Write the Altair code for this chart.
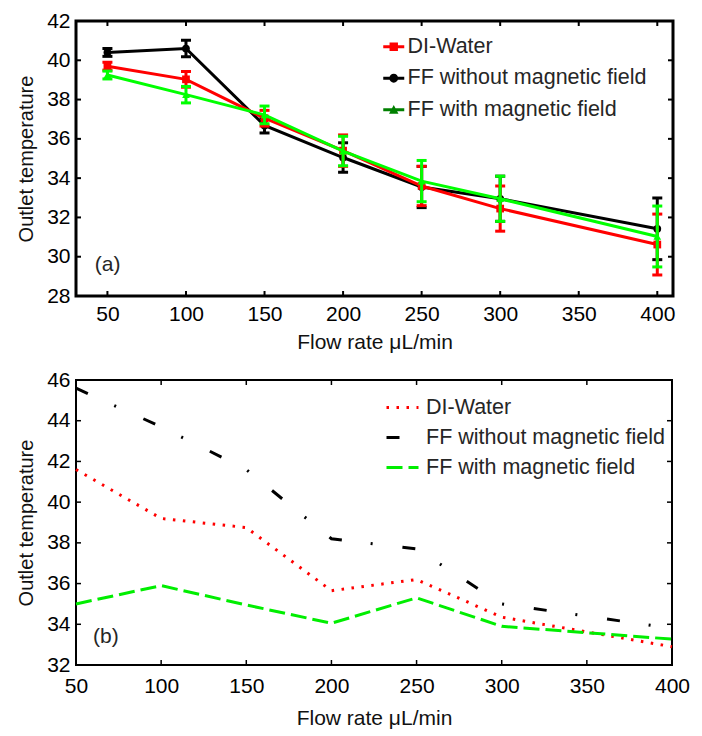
import altair as alt
import pandas as pd

FONT = "Liberation Sans"

# ---------------- data ----------------
series = ["DI-Water", "FF without magnetic field", "FF with magnetic field"]
flow = [50, 100, 150, 200, 250, 300, 400]

# panel (a): measured outlet temperature with error bars
di_a = [39.7, 39.03, 37.05, 35.4, 33.6, 32.45, 30.62]
di_a_err = [0.2, 0.4, 0.4, 0.8, 1.0, 1.15, 1.55]
ffwo_a = [40.4, 40.6, 36.68, 35.05, 33.55, 32.95, 31.42]
ffwo_a_err = [0.2, 0.42, 0.38, 0.75, 1.05, 1.15, 1.57]
ffw_a = [39.25, 38.25, 37.22, 35.38, 33.85, 32.95, 31.03]
ffw_a_err = [0.2, 0.42, 0.45, 0.75, 1.05, 1.15, 1.55]

# panel (b)
di_b = [41.6, 39.2, 38.75, 35.65, 36.2, 34.35, 32.9]
ffwo_b = [45.6, 43.7, 41.6, 38.2, 37.7, 35.0, 33.8]
ffw_b = [35.0, 35.9, 34.95, 34.05, 35.3, 33.9, 33.27]

x_ticks = [50, 100, 150, 200, 250, 300, 350, 400]
y_ticks_a = [28, 30, 32, 34, 36, 38, 40, 42]
y_ticks_b = [32, 34, 36, 38, 40, 42, 44, 46]
panel_labels = ["(a)", "(b)"]

# ---------------- styles ----------------
line_colors_a = {"DI-Water": "#ff0000", "FF without magnetic field": "#000000",
                 "FF with magnetic field": "#00ff00"}
marker_shapes = {"DI-Water": "square", "FF without magnetic field": "circle",
                 "FF with magnetic field": "triangle-up"}
legend_colors_a = ["#ff0000", "#000000", "#008000"]
bar = "M-1,-0.15H1V0.15H-1Z "
legend_paths_a = [
    bar + "M-0.4,-0.4H0.4V0.4H-0.4Z",
    bar + "M0.42,0A0.42,0.42 0 1,1 -0.42,0A0.42,0.42 0 1,1 0.42,0Z",
    bar + "M0,-0.45L0.45,0.38L-0.45,0.38Z",
]
colors_b = ["#ff0000", "#000000", "#00ee00"]
dashes_b = [[2.5, 7.5], [13, 29, 2, 30], [16, 6]]

W_A, H_A = 597, 275
W_B, H_B = 596, 285
XD_A, YD_A = [30, 410], [28, 42]
XD_B, YD_B = [50, 400], [32, 46]


def axis_x(pad, tpad):
    return alt.Axis(values=x_ticks, title="Flow rate μL/min", domain=False, ticks=False,
                    tickSize=0, grid=False, labelFontSize=21, labelFont=FONT,
                    labelColor="black", labelPadding=pad, titleFontSize=21, titleFont=FONT,
                    titleColor="#111", titleFontWeight="normal", titlePadding=tpad,
                    labelFlush=False)


def axis_y(values):
    return alt.Axis(values=values, title="Outlet temperature", domain=False, ticks=False,
                    tickSize=0, grid=False, labelFontSize=21, labelFont=FONT,
                    labelColor="black", labelPadding=6, titleFontSize=20, titleFont=FONT,
                    titleColor="#111", titleFontWeight="normal", titlePadding=10)


def tick_layers(ys, xd, yd, w, h, sw, ax, ay):
    tx = 5 * (xd[1] - xd[0]) / w
    ty = 5 * (yd[1] - yd[0]) / h
    xt = alt.Chart(pd.DataFrame({"v": x_ticks}))
    yt = alt.Chart(pd.DataFrame({"v": ys}))
    sx = alt.Scale(domain=xd, nice=False, zero=False)
    sy = alt.Scale(domain=yd, nice=False, zero=False)
    X = alt.X("v:Q", scale=sx, axis=ax)
    Y = alt.Y("v:Q", scale=sy, axis=ay)
    return [
        xt.mark_rule(color="black", strokeWidth=sw).encode(
            x=X, y=alt.YDatum(yd[0], scale=sy, axis=ay), y2=alt.Y2Datum(yd[0] + ty)),
        xt.mark_rule(color="black", strokeWidth=sw).encode(
            x=X, y=alt.YDatum(yd[1], scale=sy, axis=ay), y2=alt.Y2Datum(yd[1] - ty)),
        yt.mark_rule(color="black", strokeWidth=sw).encode(
            y=Y, x=alt.XDatum(xd[0], scale=sx, axis=ax), x2=alt.X2Datum(xd[0] + tx)),
        yt.mark_rule(color="black", strokeWidth=sw).encode(
            y=Y, x=alt.XDatum(xd[1], scale=sx, axis=ax), x2=alt.X2Datum(xd[1] - tx)),
    ]


# ---------------- panel (a) ----------------
sxa = alt.Scale(domain=XD_A, nice=False, zero=False)
sya = alt.Scale(domain=YD_A, nice=False, zero=False)
axa = axis_x(7, 7)
aya = axis_y(y_ticks_a)

layers_a = []
for name, vals, errs in [("FF without magnetic field", ffwo_a, ffwo_a_err),
                         ("DI-Water", di_a, di_a_err),
                         ("FF with magnetic field", ffw_a, ffw_a_err)]:
    df = pd.DataFrame({"flow": flow, "temp": vals,
                       "lo": [v - e for v, e in zip(vals, errs)],
                       "hi": [v + e for v, e in zip(vals, errs)]})
    base = alt.Chart(df)
    c = line_colors_a[name]
    xn = alt.X("flow:Q", scale=sxa, axis=axa)
    layers_a += [
        base.mark_line(color=c, strokeWidth=3).encode(
            x=xn, y=alt.Y("temp:Q", scale=sya, axis=aya)),
        base.mark_rule(color=c, strokeWidth=3).encode(
            x=xn, y=alt.Y("lo:Q", scale=sya, axis=aya), y2="hi:Q"),
        base.mark_tick(color=c, orient="horizontal", size=10, thickness=3, opacity=1).encode(
            x=xn, y=alt.Y("lo:Q", scale=sya, axis=aya)),
        base.mark_tick(color=c, orient="horizontal", size=10, thickness=3, opacity=1).encode(
            x=xn, y=alt.Y("hi:Q", scale=sya, axis=aya)),
        base.mark_point(shape=marker_shapes[name], filled=True, color=c, size=60,
                        opacity=1).encode(x=xn, y=alt.Y("temp:Q", scale=sya, axis=aya)),
    ]

leg_a = alt.Legend(title=None, orient="none", legendX=307, legendY=15, symbolSize=441,
                   symbolStrokeWidth=0, labelFontSize=21.5, labelFont=FONT,
                   labelColor="#262626", rowPadding=8.5, labelOffset=3, padding=0,
                   labelLimit=0)
legend_layer_a = alt.Chart(pd.DataFrame({"series": series})).transform_filter(
    "false").mark_point(filled=True, opacity=1).encode(
    color=alt.Color("series:N", scale=alt.Scale(domain=series, range=legend_colors_a),
                    legend=leg_a),
    shape=alt.Shape("series:N", scale=alt.Scale(domain=series, range=legend_paths_a),
                    legend=leg_a),
)

label_a = alt.Chart(pd.DataFrame({"t": [panel_labels[0]]})).mark_text(
    align="left", baseline="middle", fontSize=21, font=FONT, color="#262626").encode(
    x=alt.XDatum(42, scale=sxa, axis=axa), y=alt.YDatum(29.6, scale=sya, axis=aya),
    text="t:N")

panel_a = alt.layer(*layers_a, *tick_layers(y_ticks_a, XD_A, YD_A, W_A, H_A, 2, axa, aya),
                    label_a, legend_layer_a).properties(
    width=W_A, height=H_A, view=alt.ViewBackground(stroke="black", strokeWidth=3))

# ---------------- panel (b) ----------------
sxb = alt.Scale(domain=XD_B, nice=False, zero=False)
syb = alt.Scale(domain=YD_B, nice=False, zero=False)
axb = axis_x(10, 11)
ayb = axis_y(y_ticks_b)

rows = []
for name, vals in [("DI-Water", di_b), ("FF without magnetic field", ffwo_b),
                   ("FF with magnetic field", ffw_b)]:
    for f, v in zip(flow, vals):
        rows.append({"series": name, "flow": f, "temp": v})
df_b = pd.DataFrame(rows)

leg_b = alt.Legend(title=None, orient="none", legendX=309, legendY=10, symbolSize=1024,
                   symbolStrokeWidth=3, labelFontSize=21.5, labelFont=FONT,
                   labelColor="#262626", rowPadding=2, labelOffset=6, padding=0,
                   labelLimit=0)
lines_b = alt.Chart(df_b).mark_line(strokeWidth=3).encode(
    x=alt.X("flow:Q", scale=sxb, axis=axb),
    y=alt.Y("temp:Q", scale=syb, axis=ayb),
    color=alt.Color("series:N", scale=alt.Scale(domain=series, range=colors_b), legend=leg_b),
    strokeDash=alt.StrokeDash("series:N", scale=alt.Scale(domain=series, range=dashes_b),
                              legend=leg_b),
)

label_b = alt.Chart(pd.DataFrame({"t": [panel_labels[1]]})).mark_text(
    align="left", baseline="middle", fontSize=21, font=FONT, color="#262626").encode(
    x=alt.XDatum(60, scale=sxb, axis=axb), y=alt.YDatum(33.4, scale=syb, axis=ayb),
    text="t:N")

panel_b = alt.layer(lines_b, *tick_layers(y_ticks_b, XD_B, YD_B, W_B, H_B, 1.5, axb, ayb),
                    label_b).properties(
    width=W_B, height=H_B, view=alt.ViewBackground(stroke="black", strokeWidth=2))

chart = alt.vconcat(panel_a, panel_b, spacing=14).resolve_scale(
    color="independent", shape="independent", strokeDash="independent",
    x="independent", y="independent").resolve_legend(
    color="independent", shape="independent", strokeDash="independent").properties(
    padding={"left": 7, "top": 0, "right": 0, "bottom": 2})

chart.save("out.html", embed_options={"renderer": "svg", "actions": False})
